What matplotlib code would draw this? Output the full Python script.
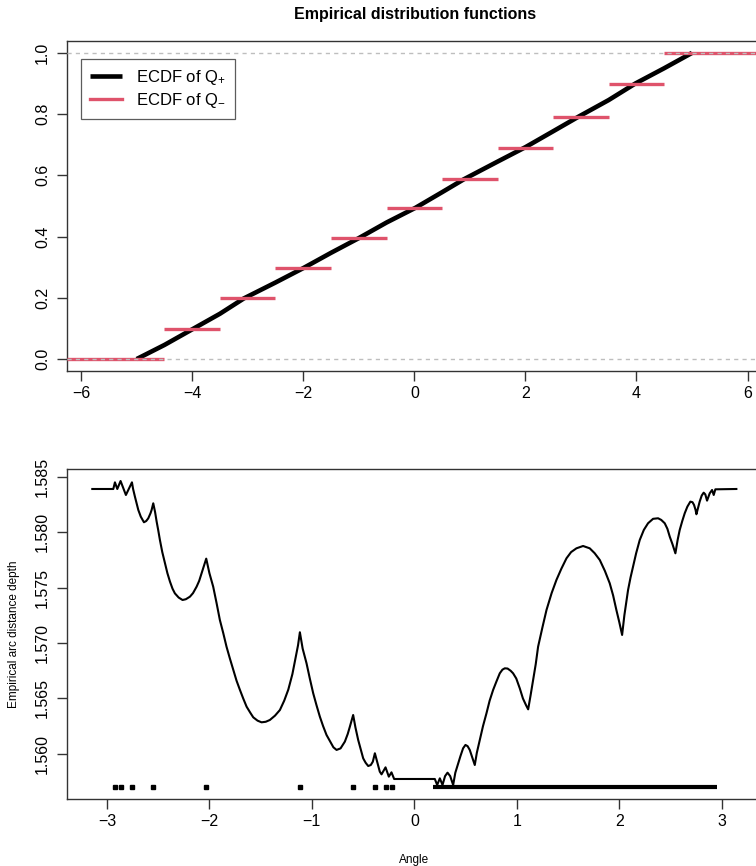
import numpy as np
import matplotlib
matplotlib.use("Agg")
import matplotlib.pyplot as plt

plt.rcParams["font.family"] = ["Liberation Sans", "DejaVu Sans"]
plt.rcParams["mathtext.fontset"] = "custom"
plt.rcParams["mathtext.rm"] = "Liberation Sans"
plt.rcParams["mathtext.it"] = "Liberation Sans"

# ---------------- top panel data ----------------
# ECDF of Q+ (dense, drawn as a thick line)
q_plus_x = [-5.0, -4.5, -4.0, -3.5, -3.07, -2.5, -2.0, -1.5, -1.0, -0.5,
            0.02, 0.5, 0.89, 1.5, 2.0, 2.5, 2.96, 3.5, 3.98, 4.5, 5.0]
q_plus_y = [0.0, 0.046, 0.097, 0.148, 0.198, 0.250, 0.297, 0.347, 0.395, 0.446,
            0.494, 0.545, 0.587, 0.645, 0.692, 0.744, 0.792, 0.846, 0.900, 0.950, 1.0]

# ECDF of Q- (step function)
q_minus_knots = [-4.5, -3.5, -2.5, -1.5, -0.5, 0.5, 1.5, 2.5, 3.5, 4.5]
q_minus_levels = [0.0, 0.097, 0.198, 0.296, 0.395, 0.494, 0.587, 0.689, 0.792, 0.900, 1.0]

# ---------------- bottom panel data ----------------
depth_curve = [
    (-3.143, 1.58389), (-2.938, 1.58389), (-2.922, 1.58449), (-2.899, 1.58389),
    (-2.867, 1.58461), (-2.815, 1.58335), (-2.756, 1.58449), (-2.745, 1.58390),
    (-2.727, 1.58320), (-2.710, 1.58260), (-2.694, 1.58200), (-2.670, 1.58140),
    (-2.639, 1.58089), (-2.617, 1.58100), (-2.597, 1.58124), (-2.575, 1.58170),
    (-2.564, 1.58200), (-2.548, 1.58260), (-2.530, 1.58180), (-2.515, 1.58095),
    (-2.500, 1.58020), (-2.483, 1.57929), (-2.460, 1.57820), (-2.434, 1.57719),
    (-2.410, 1.57630), (-2.385, 1.57554), (-2.360, 1.57490), (-2.337, 1.57448),
    (-2.300, 1.57410), (-2.262, 1.57388), (-2.230, 1.57395), (-2.190, 1.57418),
    (-2.160, 1.57450), (-2.125, 1.57508), (-2.100, 1.57560), (-2.076, 1.57629),
    (-2.055, 1.57690), (-2.031, 1.57761), (-2.000, 1.57630), (-1.963, 1.57508),
    (-1.930, 1.57360), (-1.898, 1.57208), (-1.865, 1.57090), (-1.833, 1.56967),
    (-1.800, 1.56860), (-1.767, 1.56757), (-1.735, 1.56660), (-1.702, 1.56577),
    (-1.670, 1.56500), (-1.637, 1.56426), (-1.600, 1.56370), (-1.572, 1.56330),
    (-1.530, 1.56300), (-1.491, 1.56285), (-1.450, 1.56290), (-1.410, 1.56306),
    (-1.360, 1.56345), (-1.312, 1.56396), (-1.270, 1.56480), (-1.230, 1.56580),
    (-1.190, 1.56720), (-1.160, 1.56860), (-1.135, 1.56980), (-1.117, 1.57097),
    (-1.090, 1.56950), (-1.052, 1.56817), (-1.020, 1.56680), (-0.987, 1.56547),
    (-0.955, 1.56440), (-0.922, 1.56336), (-0.890, 1.56250), (-0.857, 1.56171),
    (-0.820, 1.56110), (-0.790, 1.56060), (-0.759, 1.56036), (-0.720, 1.56050),
    (-0.678, 1.56111), (-0.650, 1.56180), (-0.629, 1.56246), (-0.610, 1.56310),
    (-0.597, 1.56351), (-0.575, 1.56240), (-0.548, 1.56126), (-0.520, 1.56030),
    (-0.499, 1.55960), (-0.475, 1.55920), (-0.450, 1.55891), (-0.425, 1.55900),
    (-0.405, 1.55930), (-0.385, 1.56006), (-0.337, 1.55840), (-0.320, 1.55816),
    (-0.281, 1.55879), (-0.249, 1.55795), (-0.223, 1.55834), (-0.197, 1.55774),
    (0.200, 1.55774), (0.223, 1.55720), (0.249, 1.55780), (0.275, 1.55720),
    (0.300, 1.55800), (0.324, 1.55831), (0.350, 1.55800), (0.379, 1.55720),
    (0.400, 1.55830), (0.428, 1.55915), (0.450, 1.55980), (0.476, 1.56051),
    (0.499, 1.56081), (0.520, 1.56070), (0.541, 1.56036), (0.565, 1.55970),
    (0.590, 1.55900), (0.610, 1.56010), (0.639, 1.56126), (0.670, 1.56250),
    (0.704, 1.56366), (0.735, 1.56480), (0.769, 1.56577), (0.800, 1.56650),
    (0.834, 1.56727), (0.860, 1.56760), (0.883, 1.56772), (0.910, 1.56770),
    (0.940, 1.56750), (0.964, 1.56727), (0.995, 1.56680), (1.029, 1.56592),
    (1.060, 1.56500), (1.090, 1.56440), (1.111, 1.56402), (1.135, 1.56530),
    (1.159, 1.56667), (1.185, 1.56810), (1.208, 1.56967), (1.250, 1.57140),
    (1.290, 1.57298), (1.340, 1.57450), (1.387, 1.57569), (1.435, 1.57670),
    (1.485, 1.57764), (1.530, 1.57820), (1.582, 1.57854), (1.647, 1.57875),
    (1.712, 1.57854), (1.760, 1.57810), (1.810, 1.57749), (1.860, 1.57650),
    (1.907, 1.57539), (1.940, 1.57430), (1.972, 1.57298), (2.000, 1.57190),
    (2.028, 1.57073), (2.050, 1.57250), (2.086, 1.57478), (2.110, 1.57590),
    (2.135, 1.57689), (2.165, 1.57810), (2.200, 1.57929), (2.240, 1.58020),
    (2.281, 1.58080), (2.330, 1.58120), (2.379, 1.58125), (2.410, 1.58110),
    (2.444, 1.58080), (2.470, 1.58030), (2.493, 1.57959), (2.520, 1.57890),
    (2.548, 1.57809), (2.570, 1.57930), (2.590, 1.58019), (2.615, 1.58100),
    (2.639, 1.58170), (2.665, 1.58230), (2.694, 1.58275), (2.715, 1.58270),
    (2.730, 1.58245), (2.745, 1.58200), (2.753, 1.58161), (2.785, 1.58275),
    (2.805, 1.58330), (2.824, 1.58356), (2.840, 1.58340), (2.857, 1.58284),
    (2.883, 1.58350), (2.906, 1.58380), (2.922, 1.58335), (2.938, 1.58386),
    (3.143, 1.58389),
]
angle = [a for a, _ in depth_curve]
depth = [d for _, d in depth_curve]

# observed angles (isolated ones on the left, a dense run on the right)
sample_angles = [-2.925, -2.865, -2.757, -2.551, -2.033, -1.113, -0.594, -0.385, -0.28, -0.22]
dense_lo, dense_hi = 0.184, 2.955
sample_level = 1.55705

AX_COL = "#333333"

fig = plt.figure(figsize=(7.56, 8.66), dpi=100)
ax1 = fig.add_axes([0.0882, 0.5716, 0.9197, 0.3811])
ax2 = fig.add_axes([0.0882, 0.0774, 0.9197, 0.3807])

# ---- top: ECDFs ----
ax1.set_xlim(-6.26, 6.26)
ax1.set_ylim(-0.039, 1.039)
ax1.plot(q_plus_x, q_plus_y, color="black", lw=3.3, solid_capstyle="butt",
         label=r"ECDF of $\mathregular{Q_{+}}$", zorder=2)
lo, hi = ax1.get_xlim()
edges = [lo] + q_minus_knots + [hi]
ax1.hlines(q_minus_levels, edges[:-1], edges[1:], color="#DF536B", lw=2.4, zorder=3)
ax1.plot([], [], color="#DF536B", lw=2.4, label=r"ECDF of $\mathregular{Q_{-}}$")
for lev in (0, 1):
    ax1.axhline(lev, color="#BEBEBE", lw=1, ls=(0, (3, 3)), zorder=4)
ax1.set_xticks([-6, -4, -2, 0, 2, 4, 6])
ax1.set_yticks([0.0, 0.2, 0.4, 0.6, 0.8, 1.0])
ax1.set_yticklabels(["0.0", "0.2", "0.4", "0.6", "0.8", "1.0"], rotation=90, va="center")
leg = ax1.legend(loc="upper left", bbox_to_anchor=(0.0206, 0.945), borderaxespad=0,
                 fontsize=12, frameon=True, fancybox=False, handlelength=1.9,
                 handletextpad=0.85, borderpad=0.55, labelspacing=0.2)
leg.get_frame().set_edgecolor(AX_COL)
leg.get_frame().set_linewidth(0.9)
fig.text(0.549, 1 - 14 / 866, "Empirical distribution functions", ha="center", va="center",
         fontsize=11.5, fontweight="bold")

# ---- bottom: arc distance depth ----
ax2.set_xlim(-3.393, 3.393)
ax2.set_ylim(1.555938, 1.585667)
ax2.plot(angle, depth, color="black", lw=1.5)
ax2.plot(sample_angles, [sample_level] * len(sample_angles), "s", color="black", ms=3)
ax2.hlines(sample_level, dense_lo, dense_hi, color="black", lw=3, zorder=3)
ax2.set_xticks([-3, -2, -1, 0, 1, 2, 3])
yt = [1.560, 1.565, 1.570, 1.575, 1.580, 1.585]
ax2.set_yticks(yt)
ax2.set_yticklabels([f"{v:.3f}" for v in yt], rotation=90, va="center")
ax2.set_xlabel("Angle", fontsize=8.5, labelpad=18)
ax2.set_ylabel("Empirical arc distance depth", fontsize=8.5, labelpad=11)

for ax in (ax1, ax2):
    for s in ax.spines.values():
        s.set_color(AX_COL)
        s.set_linewidth(1)
    ax.tick_params(length=7, width=1, color=AX_COL, labelsize=11.5, pad=4)
    ax.tick_params(axis="y", pad=5)

fig.savefig("out.png", dpi=100)
